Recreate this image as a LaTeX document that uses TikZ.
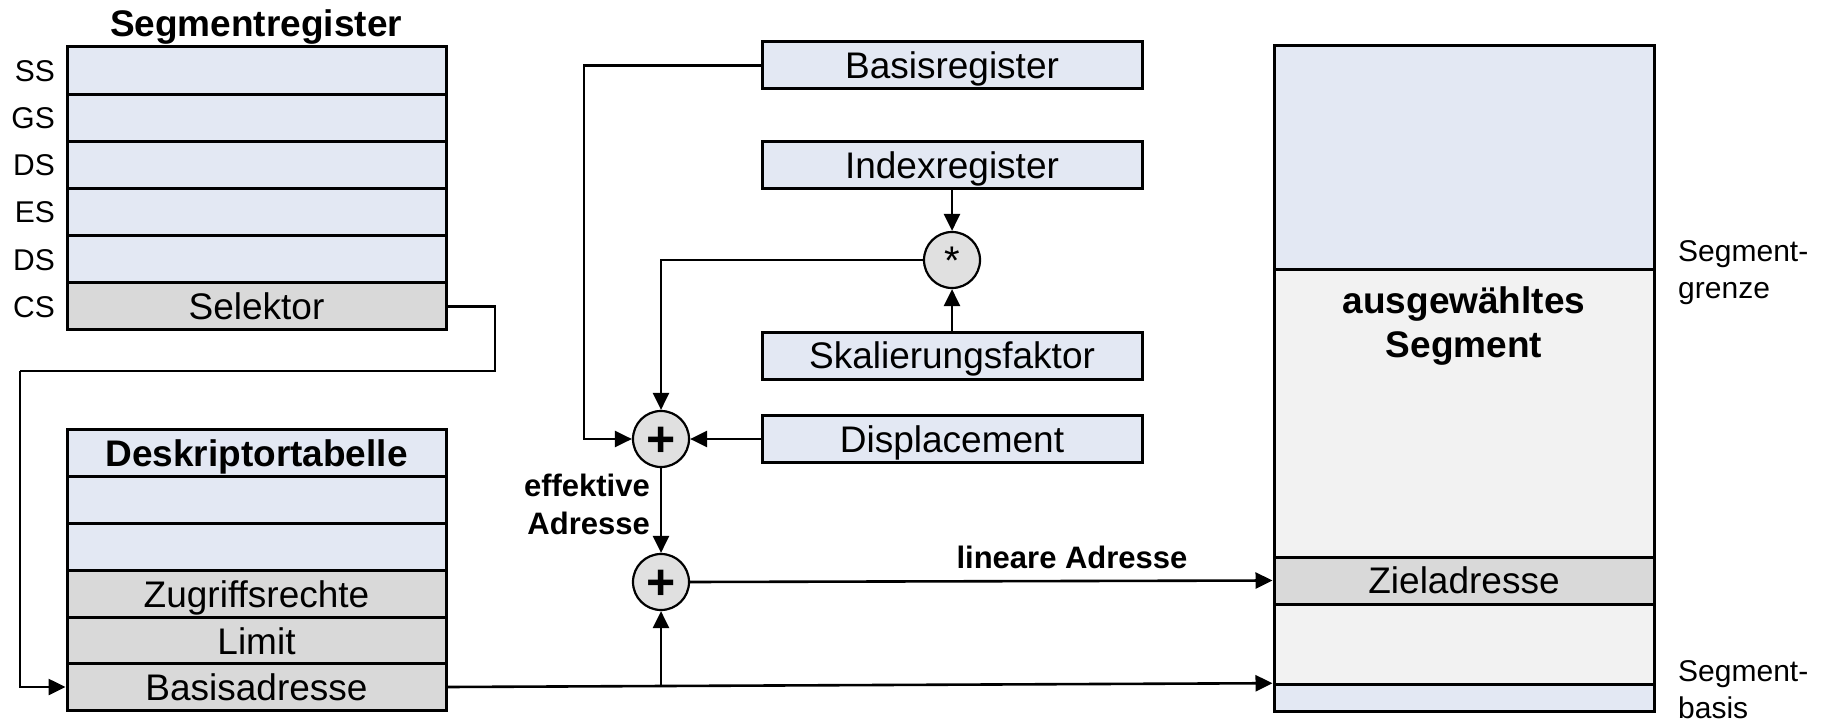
\documentclass[tikz,border=0pt]{standalone}
\usepackage{fontspec}
\setmainfont{Liberation Sans}
\usetikzlibrary{arrows.meta}

\definecolor{regblue}{RGB}{227,232,243}
\definecolor{selgray}{RGB}{217,217,217}
\definecolor{seglight}{RGB}{242,242,242}
\definecolor{opgray}{RGB}{224,224,224}

\tikzset{
  boxtext/.style={font=\fontsize{37}{44}\selectfont, text height=26.6pt, text depth=0pt},
  cell/.style={draw, rectangle, line width=3pt, inner sep=0pt, boxtext},
  tabcell/.style={cell, minimum width=379pt},
  regbox/.style={cell, fill=regblue, minimum width=380pt, minimum height=47pt},
  segpart/.style={cell, minimum width=380pt},
  opnode/.style={draw, circle, line width=2.2pt, fill=opgray, minimum size=56pt, inner sep=0pt},
  rowlabel/.style={anchor=east, inner sep=0pt, font=\fontsize{30}{36}\selectfont, text height=21.6pt, text depth=0pt},
  sidelabel/.style={anchor=north west, inner sep=0pt, align=left, font=\fontsize{30}{37}\selectfont},
  flowlabel/.style={inner sep=0pt, font=\fontsize{31}{38}\selectfont\bfseries},
  conn/.style={draw, line width=2.6pt},
  arr/.style={conn, -{Triangle[length=17pt, width=16pt]}}
}

\begin{document}
\begin{tikzpicture}[x=1pt, y=-1pt]
\useasboundingbox (0,0) rectangle (1831,722);

% segment registers
\node[inner sep=0pt, font=\fontsize{37}{44}\selectfont\bfseries, text height=26.6pt, text depth=0pt] (srtitle) at (256,23) {Segmentregister};
\foreach \i/\lab in {1/SS, 2/GS, 3/DS, 4/ES, 5/DS} {
  \node[tabcell, fill=regblue, minimum height=47.17pt] (sr\i) at (256.5, {47+47.17*(\i-0.5)}) {};
  \node[rowlabel] (srl\i) at (55, {47+47.17*(\i-0.5)}) {\lab};
}
\node[tabcell, fill=selgray, minimum height=47.17pt] (sr6) at (256.5, 306.4) {Selektor};
\node[rowlabel] (srl6) at (55, 306.4) {CS};

% descriptor table
\node[tabcell, fill=regblue, minimum height=46.83pt, font=\fontsize{37}{44}\selectfont\bfseries] (dt1) at (256.5, 453.4) {Deskriptortabelle};
\node[tabcell, fill=regblue, minimum height=46.83pt] (dt2) at (256.5, 500.2) {};
\node[tabcell, fill=regblue, minimum height=46.83pt] (dt3) at (256.5, 547.1) {};
\node[tabcell, fill=selgray, minimum height=46.83pt] (dt4) at (256.5, 593.9) {Zugriffsrechte};
\node[tabcell, fill=selgray, minimum height=46.83pt] (dt5) at (256.5, 640.7) {Limit};
\node[tabcell, fill=selgray, minimum height=46.83pt] (dt6) at (256.5, 687) {Basisadresse};

% address registers
\node[regbox] (br) at (952, 65.5) {Basisregister};
\node[regbox] (ir) at (952, 165) {Indexregister};
\node[regbox] (sk) at (952, 355.5) {Skalierungsfaktor};
\node[regbox] (disp) at (952, 439) {Displacement};

% operators
\node[opnode, font=\fontsize{40}{40}\selectfont, text height=28.8pt, text depth=0pt] (mul) at (952, 260) {*};
\node[opnode, font=\fontsize{50}{50}\selectfont\bfseries, text height=35pt, text depth=0pt] (plus1) at (661, 439) {+};
\node[opnode, font=\fontsize{50}{50}\selectfont\bfseries, text height=35pt, text depth=0pt] (plus2) at (661, 582) {+};

% selected segment
\node[segpart, fill=regblue, minimum height=223pt] (segtop) at (1464, 157.5) {};
\node[segpart, fill=seglight, minimum height=288pt] (segmid) at (1464, 413) {};
\node[segpart, fill=selgray, minimum height=47pt] (ziel) at (1464, 580.5) {Zieladresse};
\node[segpart, fill=seglight, minimum height=83pt] (seglow) at (1464, 645.5) {};
\node[segpart, fill=regblue, minimum height=22pt] (segbase) at (1464, 698) {};
\node[anchor=north, inner sep=0pt, align=center, font=\fontsize{37}{44}\selectfont\bfseries] (segname) at (1464, 286) {ausgewähltes\\Segment};

\node[sidelabel] (grenze) at (1678, 240) {Segment-\\grenze};
\node[sidelabel] (basis) at (1678, 660) {Segment-\\basis};

% connectors
\coordinate (selA) at (495, 371);
\coordinate (selB) at (20, 371);
\draw[conn] (sr6.east) -| (selA) -- (selB);
\draw[arr] (selB) |- (dt6.west);

\coordinate (brbend) at (584, 200);
\draw[arr] (br.west) -| (brbend) |- (plus1.west);
\draw[arr] (ir.south) -- (mul.north);
\draw[arr] (sk.north) -- (mul.south);
\draw[arr] (mul.west) -| (plus1.north);
\draw[arr] (disp.west) -- (plus1.east);
\draw[arr] (plus1.south) -- (plus2.north);
\draw[arr] (plus2.east) -- (ziel.west);

\coordinate (junc) at (dt6.east -| plus2.south);
\draw[arr] (dt6.east) -- (segbase.north west);
\draw[arr] (junc) -- (plus2.south);

% flow labels
\node[flowlabel, anchor=north east, align=right] (eff) at (650, 474) {effektive\\Adresse};
\node[flowlabel, anchor=base] (lin) at (1072, 568) {lineare Adresse};
\end{tikzpicture}
\end{document}
